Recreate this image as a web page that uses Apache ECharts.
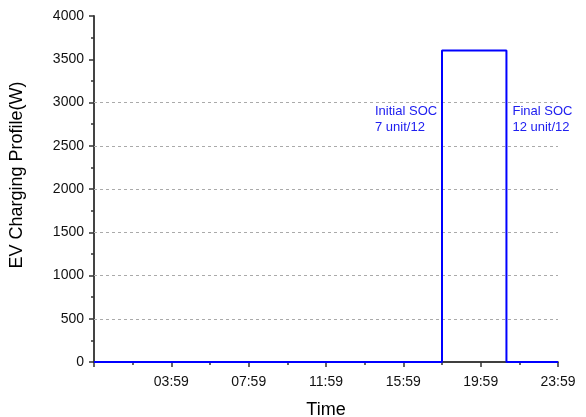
<!DOCTYPE html>
<html>
<head>
<meta charset="utf-8">
<script src="https://cdn.jsdelivr.net/npm/echarts@6/dist/echarts.min.js"></script>
<style>
  html, body { margin: 0; padding: 0; background: #fff; }
  #chart { width: 586px; height: 417px; }
</style>
</head>
<body>
<div id="chart"></div>
<script>
// time in minutes from midnight, power in W
var timePoints = [0, 1080, 1080, 1280, 1280, 1440];
var powerValues = [0, 0, 3600, 3600, 0, 0];
var gridValues = [500, 1000, 1500, 2000, 2500, 3000];
var socLabels = ['Initial SOC\n7 unit/12', 'Final SOC\n12 unit/12'];

var lineData = timePoints.map(function(t, i) { return [t, powerValues[i]]; });

function fmtTime(v) {
	if (v === 0) return '';
	var m = v - 1;
	var h = Math.floor(m / 60), mm = m % 60;
	return (h < 10 ? '0' : '') + h + ':' + (mm < 10 ? '0' : '') + mm;
}

var myChart = echarts.init(document.getElementById('chart'));
var option = {
	animation: false,
	grid: { left: 94, right: 28, top: 16, bottom: 55, outerBoundsMode: 'none', containLabel: false },
	xAxis: {
		type: 'value',
		min: 0,
		max: 1440,
		interval: 240,
		name: 'Time',
		nameLocation: 'middle',
		nameGap: 39,
		nameTextStyle: { fontFamily: 'Arial', fontSize: 18, color: '#000' },
		axisLine: { onZero: false, lineStyle: { color: '#000', width: 1.5 } },
		axisTick: { length: 5, lineStyle: { color: '#333', width: 1.5 } },
		minorTick: { show: true, splitNumber: 2, length: 3, lineStyle: { color: '#333', width: 1.5 } },
		axisLabel: { formatter: fmtTime, fontFamily: 'Arial', fontSize: 14, color: '#111', margin: 13 },
		splitLine: { show: false }
	},
	yAxis: {
		type: 'value',
		min: 0,
		max: 4000,
		interval: 500,
		name: 'EV Charging Profile(W)',
		nameLocation: 'middle',
		nameGap: 68,
		nameTextStyle: { fontFamily: 'Arial', fontSize: 18, color: '#000', padding: [0, 0, 0, 28] },
		axisLine: { show: true, lineStyle: { color: '#444', width: 2 } },
		axisTick: { show: true, length: 5, lineStyle: { color: '#333', width: 1.5 } },
		minorTick: { show: true, splitNumber: 2, length: 3, lineStyle: { color: '#333', width: 1.5 } },
		axisLabel: { formatter: function(v) { return String(v); }, fontFamily: 'Arial', fontSize: 14, color: '#111', margin: 10 },
		splitLine: { show: false }
	},
	series: [{
		type: 'line',
		data: lineData,
		symbol: 'none',
		lineStyle: { color: '#0000ff', width: 2 },
		z: 3,
		markLine: {
			silent: true,
			symbol: 'none',
			label: { show: false },
			lineStyle: { color: '#aaa', type: [3, 3], width: 1 },
			data: gridValues.map(function(v) { return { yAxis: v }; }),
			z: 1
		},
		markPoint: {
			symbol: 'circle',
			symbolSize: 0,
			label: {
				show: true,
				fontFamily: 'Arial',
				fontSize: 13,
				lineHeight: 16,
				color: '#2020f0',
				align: 'left',
				verticalAlign: 'middle'
			},
			data: [
				{ coord: [timePoints[1], 2800], value: socLabels[0],
					label: { position: 'inside', offset: [-67, 0], formatter: socLabels[0] } },
				{ coord: [timePoints[3], 2800], value: socLabels[1],
					label: { position: 'inside', offset: [6, 0], formatter: socLabels[1] } }
			]
		}
	}]
};
myChart.setOption(option);
</script>
</body>
</html>
